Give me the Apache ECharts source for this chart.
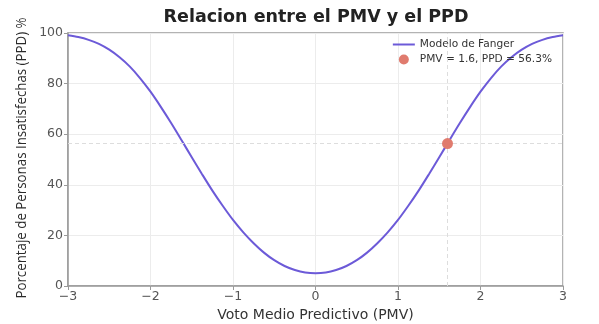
<!DOCTYPE html>
<html>
<head>
<meta charset="utf-8">
<script src="https://cdn.jsdelivr.net/npm/echarts@6/dist/echarts.min.js"></script>
<style>
  html, body { margin: 0; padding: 0; background: #fff; }
  #chart { width: 599px; height: 324px; }
</style>
</head>
<body>
<div id="chart"></div>
<script>
// Fanger curve: predicted percentage dissatisfied vs predicted mean vote
const pmvValues = [-3, -2.875, -2.75, -2.625, -2.5, -2.375, -2.25, -2.125, -2, -1.875, -1.75, -1.625,
                   -1.5, -1.375, -1.25, -1.125, -1, -0.875, -0.75, -0.625, -0.5, -0.375, -0.25, -0.125,
                   0,
                   0.125, 0.25, 0.375, 0.5, 0.625, 0.75, 0.875, 1, 1.125, 1.25, 1.375, 1.5,
                   1.625, 1.75, 1.875, 2, 2.125, 2.25, 2.375, 2.5, 2.625, 2.75, 2.875, 3];
const ppdValues = [99.1, 98.4, 97.3, 95.7, 93.4, 90.4, 86.7, 82.1, 76.8, 70.8, 64.4, 57.7,
                   50.9, 44.2, 37.7, 31.7, 26.1, 21.2, 16.9, 13.2, 10.2, 7.9, 6.3, 5.3,
                   5.0,
                   5.3, 6.3, 7.9, 10.2, 13.2, 16.9, 21.2, 26.1, 31.7, 37.7, 44.2, 50.9,
                   57.7, 64.4, 70.8, 76.8, 82.1, 86.7, 90.4, 93.4, 95.7, 97.3, 98.4, 99.1];

// Highlighted operating point
const pointPmv = 1.6;
const pointPpd = 56.3;

const xTicks = [-3, -2, -1, 0, 1, 2, 3];
const yTicks = [0, 20, 40, 60, 80, 100];

const FONT = 'DejaVu Sans';
const minusFmt = v => String(v).replace('-', '\u2212');

const chart = echarts.init(document.getElementById('chart'), null, { renderer: 'canvas' });

chart.setOption({
  animation: false,
  backgroundColor: '#ffffff',
  title: {
    text: 'Relacion entre el PMV y el PPD',
    left: 311, top: 3, textAlign: 'center',
    textStyle: { fontFamily: FONT, fontWeight: 'bold', fontSize: 17.5, color: '#222' }
  },
  grid: {
    left: 68, right: 36, top: 33, bottom: 38,
    outerBoundsMode: 'none',
    containLabel: false,
    show: true, borderColor: '#9a9a9a', borderWidth: 1.5, backgroundColor: 'transparent'
  },
  legend: {
    right: 42, top: 34, orient: 'vertical', itemGap: 4,
    itemWidth: 22, itemHeight: 10,
    textStyle: { fontFamily: FONT, fontSize: 10.6, color: '#333' },
    data: [
      { name: 'Modelo de Fanger', icon: 'path://M0,0h22v2h-22z' },
      { name: 'PMV = 1.6, PPD = 56.3%', icon: 'circle' }
    ]
  },
  // rotated y-axis title, drawn narrow
  graphic: [{
    type: 'text',
    x: 22.5, y: 158,
    rotation: Math.PI / 2,
    scaleX: 0.95,
    style: {
      text: 'Porcentaje de Personas Insatisfechas (PPD) %',
      font: '14px "Open Sans"',
      fill: '#2a2a2a',
      align: 'center',
      verticalAlign: 'middle'
    }
  }],
  xAxis: {
    type: 'value', min: xTicks[0], max: xTicks[xTicks.length - 1], interval: 1,
    name: 'Voto Medio Predictivo (PMV)', nameLocation: 'middle', nameGap: 22,
    nameTextStyle: { fontFamily: FONT, fontSize: 14, color: '#333' },
    axisLine: { show: true, onZero: false, lineStyle: { color: '#9a9a9a', width: 1.5 } },
    axisTick: { show: true, length: 4, lineStyle: { color: '#9a9a9a' } },
    axisLabel: { fontFamily: FONT, fontSize: 12.5, color: '#555', margin: 4, formatter: minusFmt },
    splitLine: { show: true, lineStyle: { color: '#ececec', width: 1 } }
  },
  yAxis: {
    type: 'value', min: yTicks[0], max: yTicks[yTicks.length - 1], interval: 20,
    axisLine: { show: true, onZero: false, lineStyle: { color: '#9a9a9a', width: 1.5 } },
    axisTick: { show: true, length: 4, lineStyle: { color: '#9a9a9a' } },
    axisLabel: { fontFamily: FONT, fontSize: 12.5, color: '#555', margin: 5 },
    splitLine: { show: true, lineStyle: { color: '#ececec', width: 1 } }
  },
  series: [
    {
      name: 'Modelo de Fanger',
      type: 'line',
      smooth: 0.3,
      symbol: 'none',
      data: pmvValues.map((x, i) => [x, ppdValues[i]]),
      lineStyle: { color: '#6c5ad8', width: 2 },
      itemStyle: { color: '#6c5ad8' },
      z: 3,
      markLine: {
        silent: true, symbol: 'none', label: { show: false },
        lineStyle: { color: '#dddddd', type: [4, 3], width: 1 },
        data: [{ xAxis: pointPmv }, { yAxis: pointPpd }]
      }
    },
    {
      name: 'PMV = 1.6, PPD = 56.3%',
      type: 'scatter',
      symbolSize: 11,
      data: [[pointPmv, pointPpd]],
      itemStyle: { color: '#e07b6e', opacity: 1, borderWidth: 0 },
      z: 10
    }
  ]
});
</script>
</body>
</html>
